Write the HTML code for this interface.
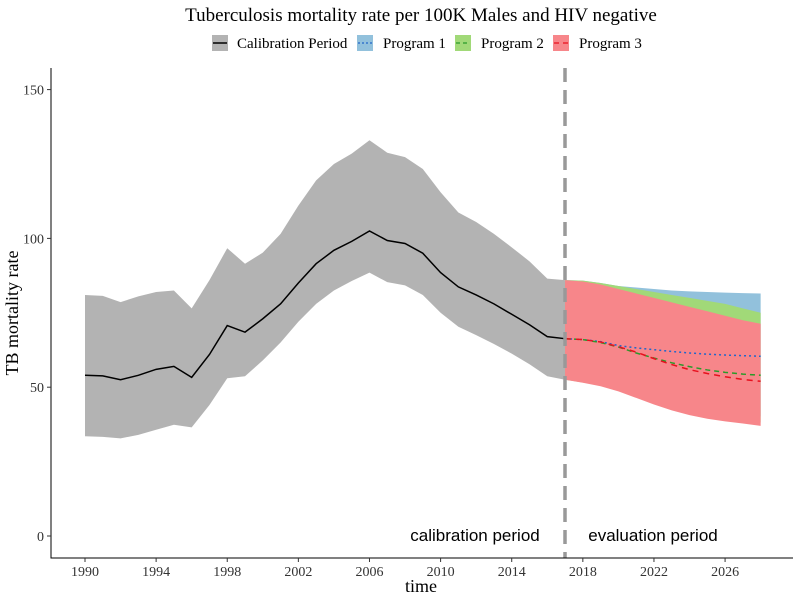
<!DOCTYPE html>
<html><head><meta charset="utf-8"><style>
body{margin:0;background:#fff}
svg{font-family:"Liberation Serif",serif;display:block}
</style></head><body>
<svg id="chart" width="800" height="600"></svg>
<script>
const calYears=[1990,1991,1992,1993,1994,1995,1996,1997,1998,1999,2000,2001,2002,2003,2004,2005,2006,2007,2008,2009,2010,2011,2012,2013,2014,2015,2016,2017];
const calMean=[54,53.8,52.5,54,56,57,53.3,61,70.7,68.5,73,78,85,91.5,96,99,102.5,99.3,98.3,95,88.5,83.7,81,78,74.5,71,67,66.3];
const calUpper=[81,80.7,78.6,80.5,82,82.5,76.5,86,96.7,91.5,95.2,101.5,111,119.5,125,128.5,133,128.8,127.3,123.3,115.5,108.7,105.5,101.5,97,92.3,86.5,86];
const calLower=[33.5,33.3,32.8,34,35.7,37.4,36.5,44,53,53.7,59,65,72,78,82.5,85.7,88.5,85.3,84.2,81,75,70.3,67.5,64.5,61.3,57.7,53.7,52.5];
const progYears=[2017,2018,2019,2020,2021,2022,2023,2024,2025,2026,2027,2028];
const p1Mean=[66.3,66,65.3,64,63.2,62.6,62,61.5,61.1,60.8,60.6,60.4];
const p1Upper=[86,85.8,85,84,83.5,83,82.5,82.2,82,81.8,81.6,81.5];
const p1Lower=[52.5,51.8,51,49.5,48,46,44.5,43,42,41.3,40.7,40.2];
const p2Mean=[66.3,66,65,63.5,61.5,59.8,58.2,56.9,55.8,55,54.4,54];
const p2Upper=[86,85.8,85,84,83,82,81,80,79,78,76.5,75];
const p2Lower=[52.5,51.6,50.7,49,47,45,43,41.5,40.3,39.5,38.8,38.2];
const p3Mean=[66.3,66,65.2,63.6,61.8,59.6,57.6,55.9,54.6,53.5,52.6,52];
const p3Upper=[86,85.5,84.5,83,81.5,80,78.5,77,75.5,74,72.5,71.3];
const p3Lower=[52.5,51.5,50.3,48.6,46.4,44.2,42.2,40.6,39.4,38.5,37.8,37];
const xTicks=[1990,1994,1998,2002,2006,2010,2014,2018,2022,2026];
const yTicks=[0,50,100,150];

const NS="http://www.w3.org/2000/svg";
const svg=document.getElementById('chart');
const X=y=>85+(y-1990)*17.78;
const Y=v=>536-v*2.976;
function el(t,a,p){const e=document.createElementNS(NS,t);for(const k in a)e.setAttribute(k,a[k]);(p||svg).appendChild(e);return e;}
function band(xs,up,lo,fill,name){
  let d='M'+xs.map((x,i)=>X(x)+','+Y(up[i])).join('L');
  for(let i=xs.length-1;i>=0;i--)d+='L'+X(xs[i])+','+Y(lo[i]);
  const e=el('path',{d:d+'Z',fill:fill});
  
  
}
function line(xs,vs,stroke,dash,name){
  const e=el('path',{d:'M'+xs.map((x,i)=>X(x)+','+Y(vs[i])).join('L'),fill:'none',stroke:stroke,'stroke-width':1.5,'stroke-dasharray':dash});
  
  
}
band(calYears,calUpper,calLower,'#b3b3b3','calibration-ribbon');
band(progYears,p1Upper,p1Lower,'#92c1dc','program1-ribbon');
band(progYears,p2Upper,p2Lower,'#a1d978','program2-ribbon');
band(progYears,p3Upper,p3Lower,'#f7868a','program3-ribbon');
line(calYears,calMean,'#000','none','calibration-line');
line(progYears,p1Mean,'#2166c9','2,3','program1-line');
line(progYears,p2Mean,'#2a9a2a','5,4','program2-line');
line(progYears,p3Mean,'#e8101e','6,5','program3-line');
const vl=el('line',{x1:565,x2:565,y1:68,y2:558,stroke:'#999','stroke-width':3.5,'stroke-dasharray':'14,8'});


const ax=el('path',{d:'M51,68V558H793',fill:'none',stroke:'#000','stroke-width':1});


xTicks.forEach(t=>{
  el('line',{x1:X(t),x2:X(t),y1:558,y2:562,stroke:'#333'});
  const tx=el('text',{x:X(t),y:576,'text-anchor':'middle','font-size':14,fill:'#333'});tx.textContent=t;
  
  
});
yTicks.forEach(t=>{
  el('line',{x1:47,x2:51,y1:Y(t),y2:Y(t),stroke:'#333'});
  const tx=el('text',{x:44,y:Y(t)+5,'text-anchor':'end','font-size':14,fill:'#333'});tx.textContent=t;
  
  
});
</script>
<svg width="800" height="600" style="position:absolute;left:0;top:0">
<text x="421" y="21" text-anchor="middle" font-family="Liberation Serif,serif" font-size="19">Tuberculosis mortality rate per 100K Males and HIV negative</text>
<text x="421" y="592" text-anchor="middle" font-family="Liberation Serif,serif" font-size="18">time</text>
<text transform="translate(18,313) rotate(-90)" text-anchor="middle" font-family="Liberation Serif,serif" font-size="18">TB mortality rate</text>
<text x="475" y="541" text-anchor="middle" font-family="Liberation Sans,sans-serif" font-size="17">calibration period</text>
<text x="653" y="541" text-anchor="middle" font-family="Liberation Sans,sans-serif" font-size="17">evaluation period</text>
<g font-family="Liberation Serif,serif" font-size="15">
 <g><rect x="212" y="35" width="16" height="16" fill="#b3b3b3"/><line x1="213" x2="227" y1="43" y2="43" stroke="#000" stroke-width="1.5"/><text x="237" y="48">Calibration Period</text></g>
 <g><rect x="357" y="35" width="16" height="16" fill="#92c1dc"/><line x1="358" x2="372" y1="43" y2="43" stroke="#2166c9" stroke-width="1.2" stroke-dasharray="2,2"/><text x="383" y="48">Program 1</text></g>
 <g><rect x="455" y="35" width="16" height="16" fill="#a1d978"/><line x1="456" x2="470" y1="43" y2="43" stroke="#2a9a2a" stroke-width="1.2" stroke-dasharray="4,3"/><text x="481" y="48">Program 2</text></g>
 <g><rect x="553" y="35" width="16" height="16" fill="#f7868a"/><line x1="554" x2="568" y1="43" y2="43" stroke="#e8101e" stroke-width="1.2" stroke-dasharray="5,4"/><text x="579" y="48">Program 3</text></g>
</g>
</svg>
</body></html>
